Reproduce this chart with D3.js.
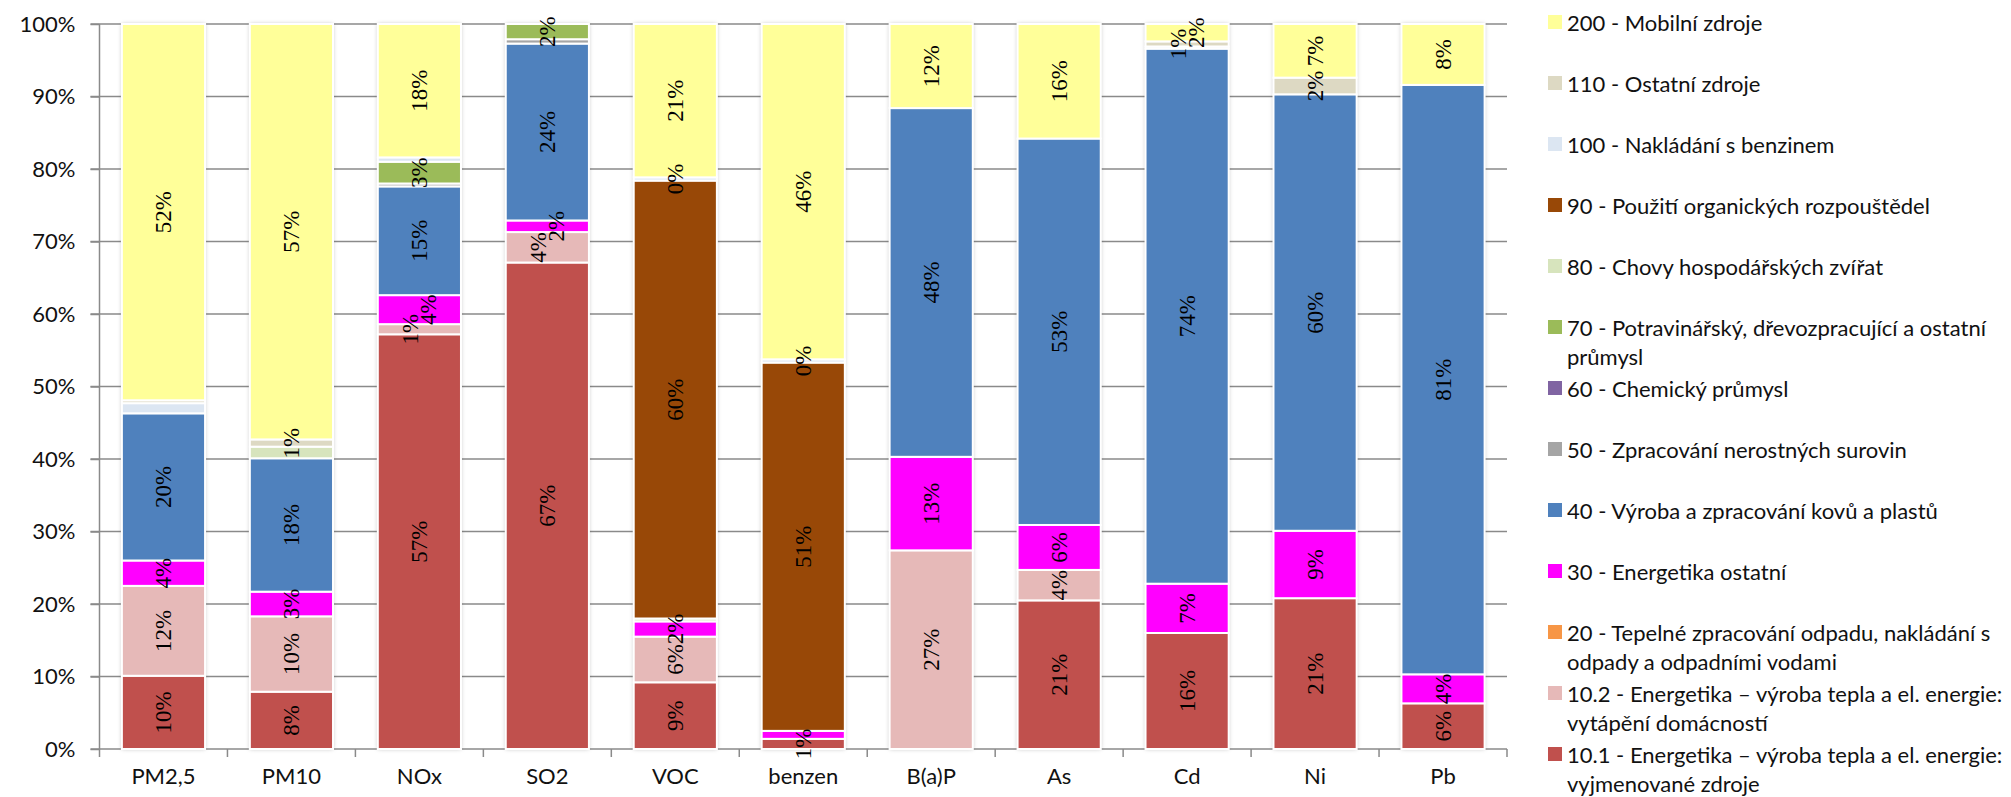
<!DOCTYPE html>
<html>
  <head>
    <meta charset="UTF-8">
    <title>Podíl skupin zdrojů na emisích</title>
    <script src="https://d3js.org/d3.v7.min.js"></script>
    <style>
      body { margin: 0; background: #fff; }
      .axis text, .legend text { font-family: Lato, "Open Sans", sans-serif; font-size: 22px; fill: #111; }
      .seg-label { font-family: "Liberation Serif", "DejaVu Serif", serif; font-size: 23px; fill: #000; }
      .grid line { stroke: #8a8a8a; stroke-width: 1.5; }
    </style>
  </head>
  <body>
    <div id="chart"></div>
    <script>
      // categories on the x axis
      const categories = ["PM2,5", "PM10", "NOx", "SO2", "VOC", "benzen", "B(a)P", "As", "Cd", "Ni", "Pb"];

      // source groups, bottom of the stack first
      const seriesKeys = ["10.1", "10.2", "20", "30", "40", "50", "60", "70", "80", "90", "100", "110", "200"];
      const seriesNames = [
        "10.1 - Energetika \u2013 výroba tepla a el. energie:\nvyjmenované zdroje",
        "10.2 - Energetika \u2013 výroba tepla a el. energie:\nvytápění domácností",
        "20 - Tepelné  zpracování odpadu, nakládání s\nodpady a odpadními vodami",
        "30 - Energetika ostatní",
        "40 - Výroba a zpracování kovů a plastů",
        "50 - Zpracování nerostných surovin",
        "60 - Chemický průmysl",
        "70 - Potravinářský, dřevozpracující a ostatní\nprůmysl",
        "80 - Chovy hospodářských zvířat",
        "90 - Použití organických rozpouštědel",
        "100 - Nakládání s benzinem",
        "110 - Ostatní zdroje",
        "200 - Mobilní zdroje"
      ];
      const seriesColors = ["#C0504D", "#E6B9B8", "#F79646", "#FF00FF", "#4F81BD", "#A5A5A5", "#8064A2",
                            "#9BBB59", "#D7E4BD", "#984807", "#DCE6F2", "#DDD9C3", "#FFFF99"];

      // shares in % per category (order as in categories)
      const s10_1 = [10.1, 7.9, 57.2, 67.1, 9.2, 1.4, 0, 20.5, 16.0, 20.8, 6.3];
      const s10_2 = [12.4, 10.4, 1.4, 4.2, 6.3, 0, 27.4, 4.2, 0, 0, 0];
      const s20   = [0, 0, 0, 0, 0, 0, 0, 0, 0, 0, 0];
      const s30   = [3.5, 3.4, 4.0, 1.6, 2.1, 1.1, 12.9, 6.2, 6.8, 9.3, 4.0];
      const s40   = [20.3, 18.4, 15.0, 24.4, 0, 0, 48.1, 53.3, 73.8, 60.2, 81.3];
      const s50   = [0, 0, 0.4, 0.6, 0, 0, 0, 0, 0, 0, 0];
      const s60   = [0, 0, 0, 0, 0, 0, 0, 0, 0, 0, 0];
      const s70   = [0, 0, 3.0, 2.1, 0, 0, 0, 0, 0, 0, 0];
      const s80   = [0, 1.6, 0, 0, 0.4, 0, 0, 0, 0, 0, 0];
      const s90   = [0, 0, 0, 0, 60.4, 50.8, 0, 0, 0, 0, 0];
      const s100  = [1.4, 0, 0.6, 0, 0.45, 0.45, 0, 0, 0.3, 0, 0];
      const s110  = [0.4, 1.0, 0, 0, 0, 0, 0, 0, 0.7, 2.3, 0];
      const s200  = [51.9, 57.3, 18.4, 0, 21.15, 46.25, 11.6, 15.8, 2.4, 7.4, 8.4];
      const seriesValues = [s10_1, s10_2, s20, s30, s40, s50, s60, s70, s80, s90, s100, s110, s200];

      // y axis tick values
      const yTicks = [0, 0.1, 0.2, 0.3, 0.4, 0.5, 0.6, 0.7, 0.8, 0.9, 1];

      // groups whose segments carry no label, and single unlabelled segments
      const unlabelledSeries = ["50", "60", "80"];
      const unlabelledSegments = [["PM2,5", "100"], ["PM2,5", "110"], ["NOx", "100"], ["Cd", "100"], ["benzen", "30"]];

      const table = categories.map((c, i) => {
        const row = { category: c };
        seriesKeys.forEach((k, j) => { row[k] = seriesValues[j][i]; });
        return row;
      });

      const width = 2011, height = 797;
      const plotLeft = 99.5, plotRight = 1507, plotTop = 24, plotBottom = 749;

      const svg = d3.select("#chart").append("svg")
        .attr("width", width)
        .attr("height", height);

      const defs = svg.append("defs");
      defs.append("filter").attr("id", "shadow")
        .attr("x", "-20%").attr("y", "-5%").attr("width", "140%").attr("height", "110%")
        .append("feDropShadow")
        .attr("dx", 0).attr("dy", 0).attr("stdDeviation", 2.2)
        .attr("flood-color", "#000").attr("flood-opacity", 0.28);

      const x = d3.scaleBand()
        .domain(categories)
        .range([plotLeft, plotRight])
        .paddingInner(0.35)
        .paddingOuter(0.175);

      const y = d3.scaleLinear().domain([0, 1]).range([plotBottom, plotTop]);

      const color = d3.scaleOrdinal().domain(seriesKeys).range(seriesColors);

      // gridlines
      svg.append("g").attr("class", "grid")
        .selectAll("line")
        .data(yTicks.slice(1))
        .join("line")
        .attr("x1", plotLeft - 9).attr("x2", plotRight)
        .attr("y1", d => y(d)).attr("y2", d => y(d));

      // y axis
      const yAxis = svg.append("g").attr("class", "axis")
        .attr("transform", `translate(${plotLeft},0)`)
        .call(d3.axisLeft(y).tickValues(yTicks).tickFormat(d3.format(".0%")).tickSize(9).tickPadding(15));
      yAxis.selectAll("line, path").attr("stroke", "#8a8a8a").attr("stroke-width", 1.5);
      yAxis.select(".domain").attr("d", `M0,${plotTop}V${plotBottom}`);

      // x axis: labels under bars, tick marks between categories
      const xAxis = svg.append("g").attr("class", "axis")
        .attr("transform", `translate(0,${plotBottom})`)
        .call(d3.axisBottom(x).tickSize(0).tickPadding(31));
      xAxis.select(".domain").attr("d", `M${plotLeft - 9},0H${plotRight}`)
        .attr("stroke", "#8a8a8a").attr("stroke-width", 1.5);
      xAxis.selectAll(".tick text").attr("dy", "0.2em");
      const step = x.step();
      xAxis.append("g").selectAll("line")
        .data(d3.range(categories.length + 1))
        .join("line")
        .attr("x1", i => plotLeft + i * step).attr("x2", i => plotLeft + i * step)
        .attr("y1", 0).attr("y2", 8)
        .attr("stroke", "#8a8a8a").attr("stroke-width", 1.5);

      // stacked 100 % bars
      const stack = d3.stack().keys(seriesKeys).offset(d3.stackOffsetExpand);
      const layers = stack(table);

      svg.append("g").selectAll("rect")
        .data(categories)
        .join("rect")
        .attr("x", d => x(d))
        .attr("y", y(1))
        .attr("width", x.bandwidth())
        .attr("height", y(0) - y(1))
        .attr("fill", "#fff")
        .attr("filter", "url(#shadow)");

      svg.append("g").selectAll("g")
        .data(layers)
        .join("g")
        .attr("fill", d => color(d.key))
        .selectAll("rect")
        .data(d => d.filter(p => p[1] - p[0] > 0))
        .join("rect")
        .attr("x", d => x(d.data.category))
        .attr("y", d => y(d[1]))
        .attr("width", x.bandwidth())
        .attr("height", d => y(d[0]) - y(d[1]))
        .attr("stroke", "#fff")
        .attr("stroke-width", 2);

      // data labels, rotated
      const labels = [];
      layers.forEach(layer => {
        if (unlabelledSeries.includes(layer.key)) return;
        layer.forEach(p => {
          const c = p.data.category;
          if (p[1] - p[0] <= 0) return;
          if (unlabelledSegments.some(s => s[0] === c && s[1] === layer.key)) return;
          labels.push({ category: c, key: layer.key, mid: (p[0] + p[1]) / 2, share: p[1] - p[0] });
        });
      });

      const labelG = svg.append("g");
      const labelText = labelG.selectAll("text")
        .data(labels)
        .join("text")
        .attr("class", "seg-label")
        .attr("text-anchor", "middle")
        .attr("dominant-baseline", "central")
        .text(d => Math.round(d.share * 100) + "%");

      labelText.each(function (d) { d.len = this.getComputedTextLength(); d.dx = 0; });

      // push apart labels that overlap inside one bar
      categories.forEach(c => {
        const inBar = labels.filter(d => d.category === c).sort((a, b) => a.mid - b.mid);
        for (let i = 1; i < inBar.length; i++) {
          const a = inBar[i - 1], b = inBar[i];
          const gap = Math.abs(y(a.mid) - y(b.mid));
          if (gap < (a.len + b.len) / 2 - 2) { a.dx = -9; b.dx = 9; }
        }
      });

      labelText.attr("transform", d =>
        `translate(${x(d.category) + x.bandwidth() / 2 + d.dx},${y(d.mid)}) rotate(-90)`);

      // legend
      const legendKeys = seriesKeys.slice().reverse();
      const legend = svg.append("g").attr("class", "legend")
        .selectAll("g")
        .data(legendKeys)
        .join("g")
        .attr("transform", (d, i) => `translate(1548,${22 + i * 61})`);

      legend.append("rect")
        .attr("x", 0).attr("y", -7)
        .attr("width", 14).attr("height", 14)
        .attr("fill", d => color(d));

      legend.append("text")
        .attr("x", 19)
        .selectAll("tspan")
        .data(d => seriesNames[seriesKeys.indexOf(d)].split("\n"))
        .join("tspan")
        .attr("x", 19)
        .attr("y", (d, i) => i * 29)
        .attr("dominant-baseline", "central")
        .text(d => d);
    </script>
  </body>
</html>
